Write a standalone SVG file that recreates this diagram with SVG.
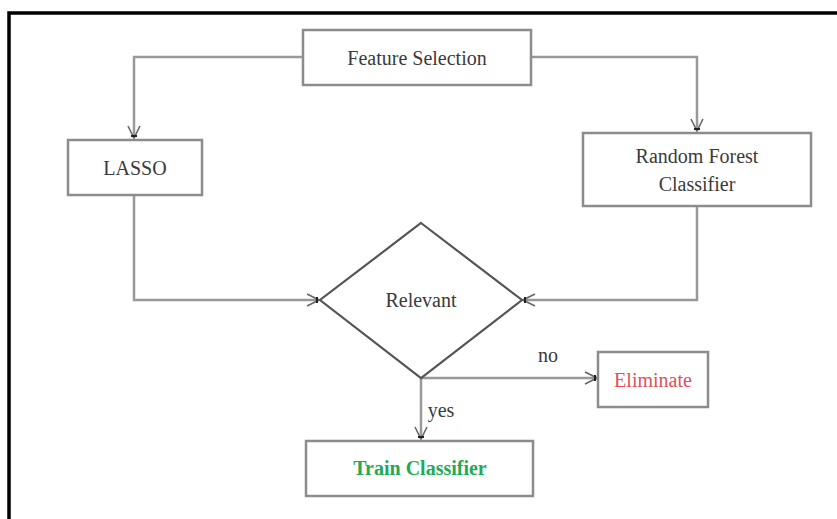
<svg xmlns="http://www.w3.org/2000/svg" width="837" height="519" viewBox="0 0 837 519">
  <style>
    .box { fill: #ffffff; stroke: #8c8c8c; stroke-width: 2.5; }
    .dia { fill: #ffffff; stroke: #555555; stroke-width: 2.2; }
    .conn { fill: none; stroke: #999999; stroke-width: 2.5; }
  </style>
  <defs>
    <marker id="vee" viewBox="0 0 14 14" refX="13" refY="7" markerWidth="14" markerHeight="14" markerUnits="userSpaceOnUse" orient="auto">
      <path d="M1,1 L13,7 L1,13" fill="none" stroke="#666666" stroke-width="1.6"/>
      <line x1="11" y1="4" x2="11" y2="10" stroke="#222222" stroke-width="2"/>
    </marker>
  </defs>

  <rect x="0" y="0" width="837" height="519" fill="#ffffff"/>
  <!-- outer frame -->
  <path d="M9,519 V13 H837" fill="none" stroke="#000000" stroke-width="3.5"/>

  <g id="connectors">
    <path class="conn" d="M303,57 H134 V138" marker-end="url(#vee)"/>
    <path class="conn" d="M531,57 H697 V131" marker-end="url(#vee)"/>
    <path class="conn" d="M134,195 V300 H319" marker-end="url(#vee)"/>
    <path class="conn" d="M697,206 V300 H523" marker-end="url(#vee)"/>
    <path class="conn" d="M421,378 H597" marker-end="url(#vee)"/>
    <path class="conn" d="M421,378 V439" marker-end="url(#vee)"/>
  </g>

  <g font-family="Liberation Serif" font-size="20" fill="#3a3a3a" text-anchor="middle">
    <text x="548" y="362" style="font-family:'Liberation Serif',serif">no</text>
    <text x="441" y="417" style="font-family:'Liberation Serif',serif">yes</text>

    <g id="feature-selection">
      <rect class="box" x="303" y="30" width="228" height="55"/>
      <text x="417" y="65" style="font-family:'Liberation Serif',serif">Feature Selection</text>
    </g>

    <g id="lasso">
      <rect class="box" x="68" y="140" width="134" height="55"/>
      <text x="135" y="175" style="font-family:'Liberation Serif',serif">LASSO</text>
    </g>

    <g id="random-forest">
      <rect class="box" x="583" y="133" width="228" height="73"/>
      <text x="697" y="163" style="font-family:'Liberation Serif',serif">Random Forest</text>
      <text x="697" y="191" style="font-family:'Liberation Serif',serif">Classifier</text>
    </g>

    <g id="relevant">
      <polygon class="dia" points="421,223 522,300 421,378 320,300"/>
      <text x="421" y="307" style="font-family:'Liberation Serif',serif">Relevant</text>
    </g>

    <g id="eliminate">
      <rect class="box" x="598" y="352" width="110" height="55"/>
      <text x="653" y="387" fill="#e0505a" style="font-family:'Liberation Serif',serif">Eliminate</text>
    </g>

    <g id="train-classifier">
      <rect class="box" x="306" y="441" width="227" height="55"/>
      <text x="420" y="475" fill="#1faa55" font-weight="bold" style="font-family:'Liberation Serif',serif">Train Classifier</text>
    </g>
  </g>
</svg>
